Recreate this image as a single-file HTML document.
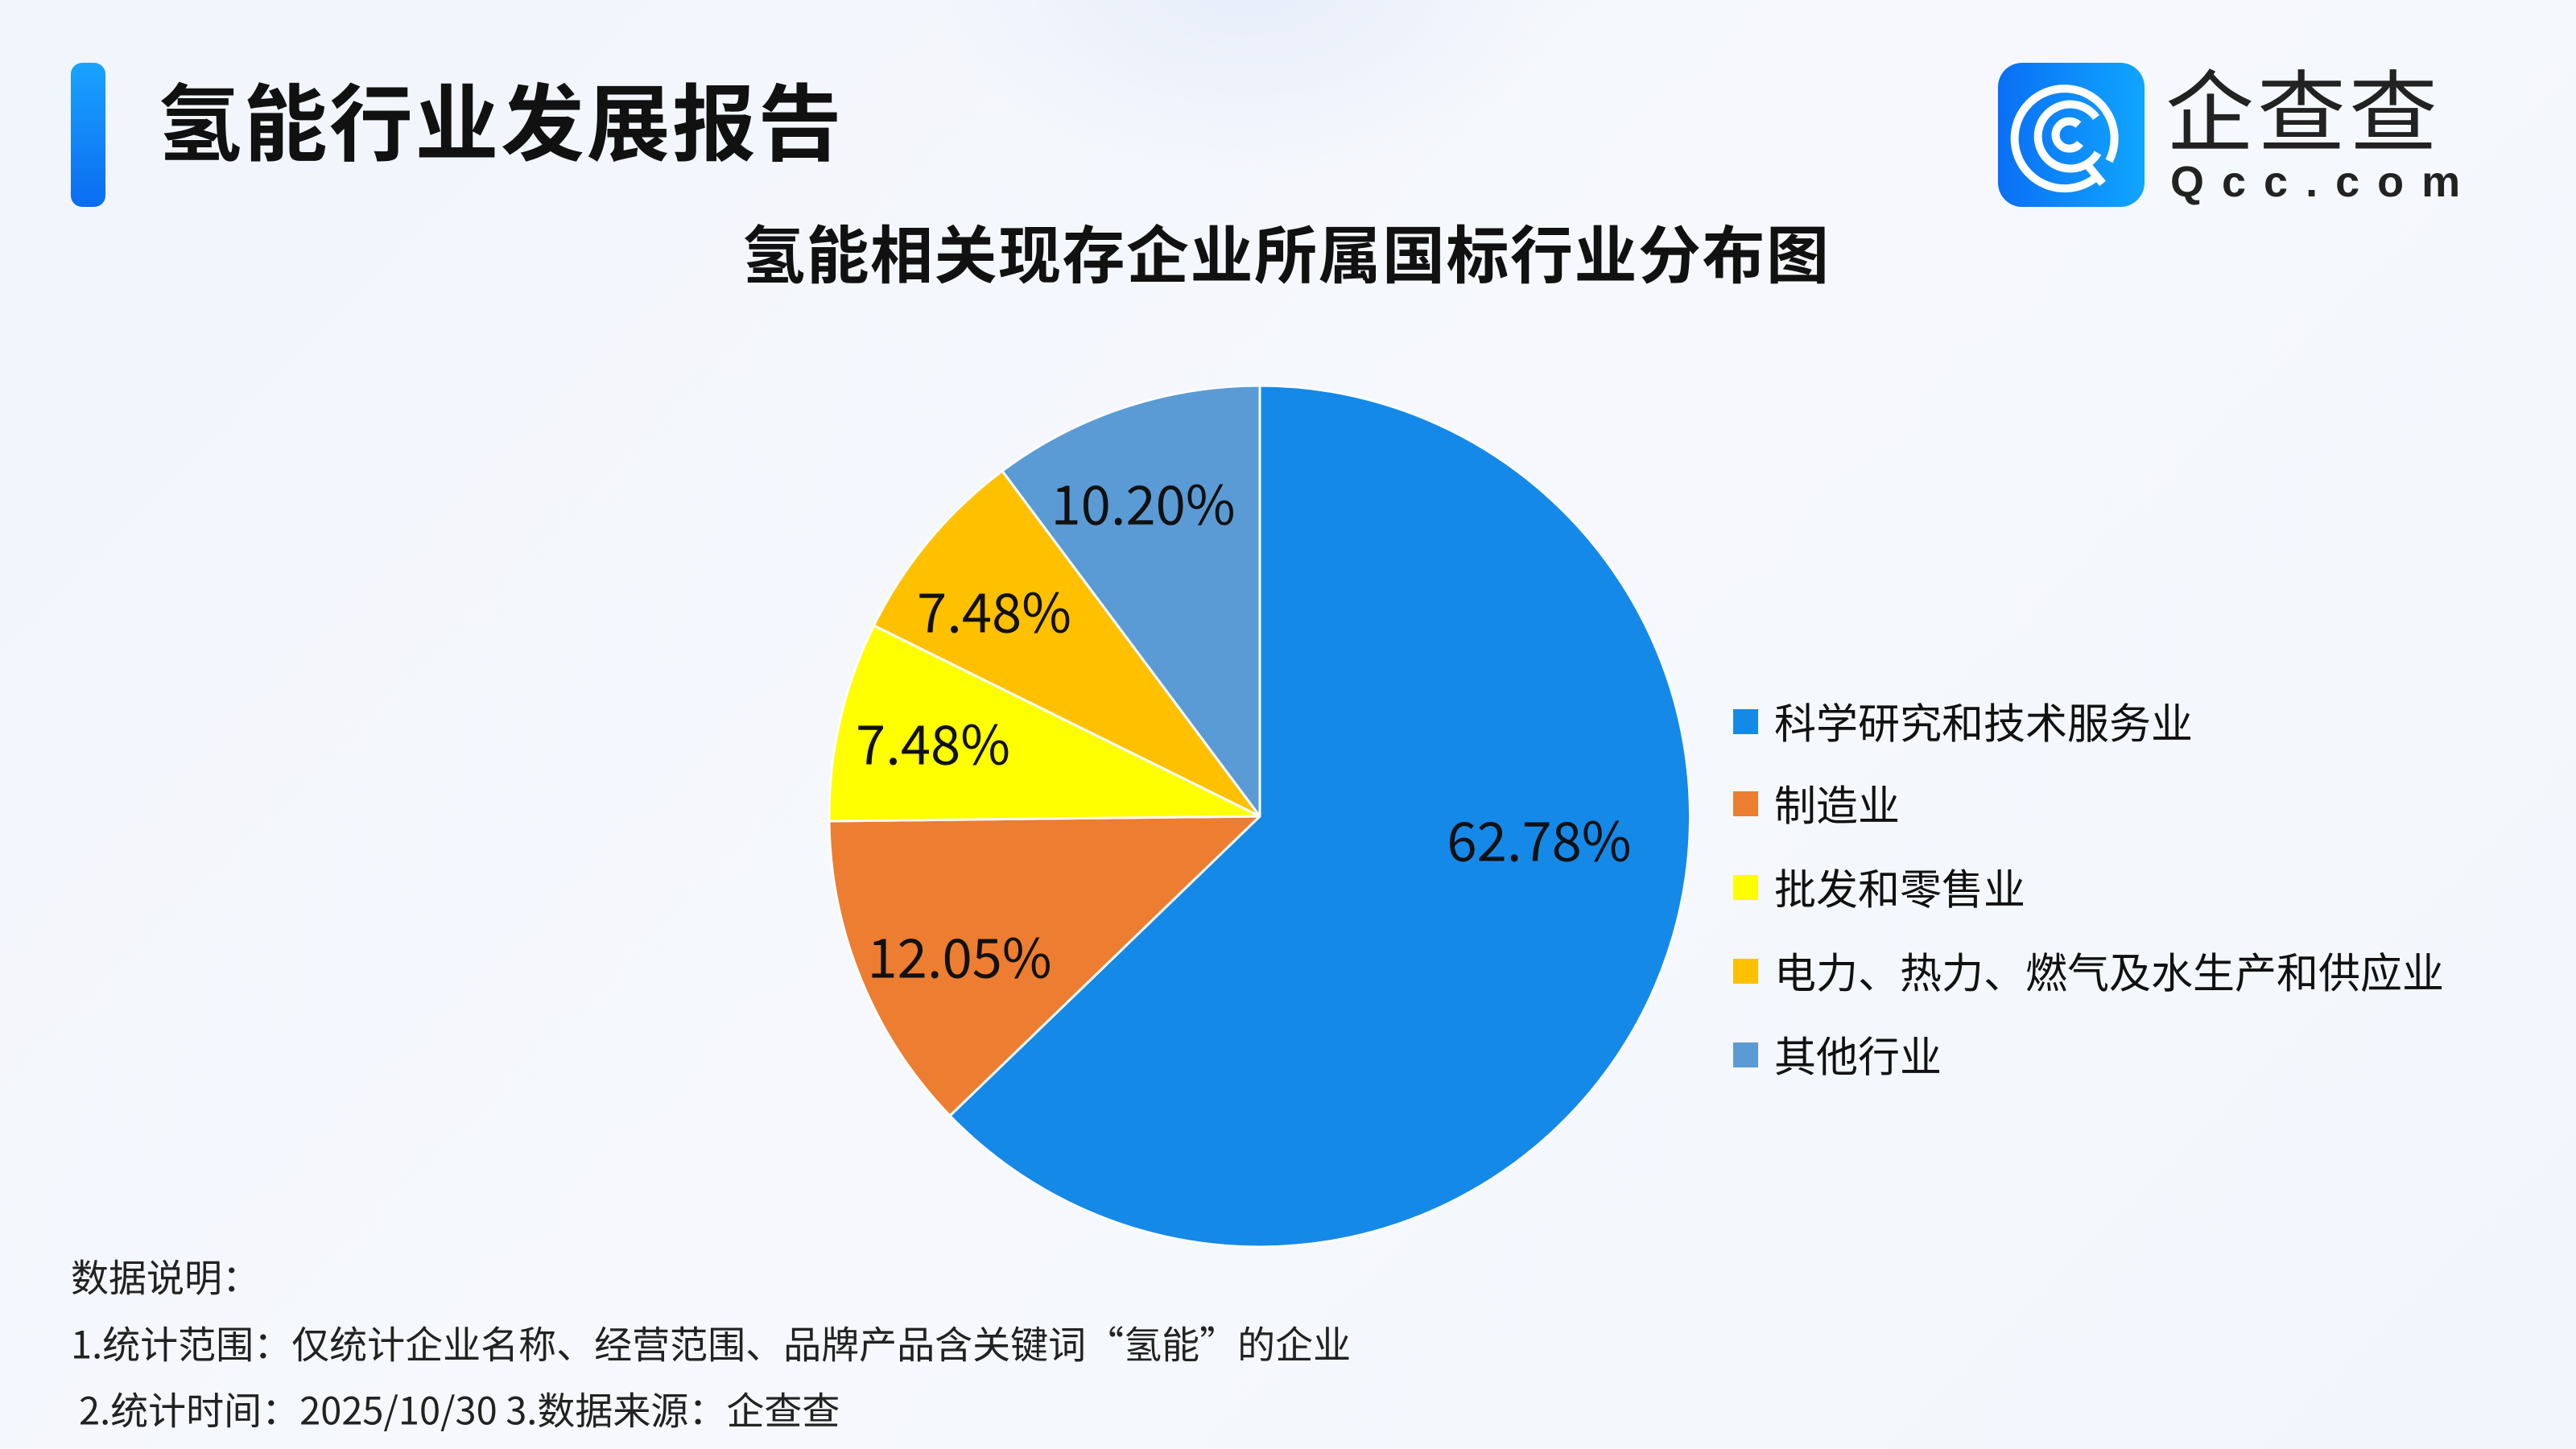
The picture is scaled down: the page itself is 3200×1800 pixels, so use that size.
<!DOCTYPE html>
<html><head><meta charset="utf-8"><style>
body{margin:0;width:3200px;height:1800px;overflow:hidden;background:linear-gradient(135deg,#f1f5fc 0%,#f6f8fd 50%,#f2f6fc 100%);font-family:"Liberation Sans","Noto Sans CJK SC",sans-serif;position:relative}
.abs{position:absolute;white-space:nowrap}
</style></head><body>
<div class="abs" style="left:1150px;top:-300px;width:800px;height:520px;border-radius:50%;background:radial-gradient(#e6edf9,rgba(235,241,250,0) 70%)"></div>
<div class="abs" style="left:88px;top:78px;width:43px;height:179px;border-radius:14px;background:linear-gradient(#1aa3ff,#0a6cf0)"></div>
<div class="abs" style="left:196px;top:96px;font-size:104px;font-weight:bold;color:#111;line-height:120px;letter-spacing:2.5px">氢能行业发展报告</div>
<div class="abs" style="left:2482px;top:78px;width:182px;height:179px;border-radius:30px;background:linear-gradient(90deg,#0a6ff5,#10a6ff)">
<svg width="182" height="179" viewBox="0 0 182 179"><g fill="none" stroke="#fff" stroke-width="10" stroke-linecap="butt">
<path d="M122 142 A62 62 0 1 1 138 122"/><path d="M124 112 A40 40 0 1 1 122 68"/><path d="M102 100 A17 17 0 1 1 100 77"/><path d="M112 128 L130 150"/></g></svg></div>
<div class="abs" style="left:2690px;top:80px;font-size:110px;color:#222;line-height:124px;letter-spacing:4px">企查查</div>
<div class="abs" style="left:2696px;top:196px;font-size:54px;font-weight:bold;color:#222;letter-spacing:22px;line-height:60px">Qcc.com</div>
<div class="abs" style="left:922px;top:268px;font-size:78px;font-weight:bold;color:#111;line-height:100px;letter-spacing:1.5px">氢能相关现存企业所属国标行业分布图</div>
<svg class="abs" style="left:0;top:0" width="3200" height="1800">
<g stroke="#fff" stroke-width="3" stroke-linejoin="round">
<path d="M1565 1014 L1565 479 A535 535 0 1 1 1180 1386 Z" fill="#1589e8"/>
<path d="M1565 1014 L1180 1386 A535 535 0 0 1 1030 1020 Z" fill="#ed7d31"/>
<path d="M1565 1014 L1030 1020 A535 535 0 0 1 1085.5 777 Z" fill="#ffff00"/>
<path d="M1565 1014 L1085.5 777 A535 535 0 0 1 1245 585 Z" fill="#ffc000"/>
<path d="M1565 1014 L1245 585 A535 535 0 0 1 1565 479 Z" fill="#5b9bd5"/>
</g>
<g font-family="Noto Sans CJK SC,sans-serif" font-size="67" fill="#111" text-anchor="middle" dominant-baseline="central">
<text x="1912" y="1041">62.78%</text>
<text x="1192" y="1186">12.05%</text>
<text x="1159" y="921">7.48%</text>
<text x="1235" y="757">7.48%</text>
<text x="1420" y="623">10.20%</text>
</g>
<g>
<rect x="2153" y="881" width="31" height="31" fill="#1589e8"/>
<rect x="2153" y="983" width="31" height="31" fill="#ed7d31"/>
<rect x="2153" y="1087" width="31" height="31" fill="#ffff00"/>
<rect x="2153" y="1191" width="31" height="31" fill="#ffc000"/>
<rect x="2153" y="1295" width="31" height="31" fill="#5b9bd5"/>
</g>
<g font-family="Noto Sans CJK SC,sans-serif" font-size="52" fill="#111" dominant-baseline="central">
<text x="2204" y="895">科学研究和技术服务业</text>
<text x="2204" y="997">制造业</text>
<text x="2204" y="1101">批发和零售业</text>
<text x="2204" y="1205">电力、热力、燃气及水生产和供应业</text>
<text x="2204" y="1309">其他行业</text>
</g>
<g font-family="Noto Sans CJK SC,sans-serif" font-size="47" fill="#222" dominant-baseline="central">
<text x="88" y="1584">数据说明：</text>
<text x="88" y="1667">1.统计范围：仅统计企业名称、经营范围、品牌产品含关键词“氢能”的企业</text>
<text x="98" y="1749">2.统计时间：2025/10/30 3.数据来源：企查查</text>
</g>
</svg>
</body></html>
